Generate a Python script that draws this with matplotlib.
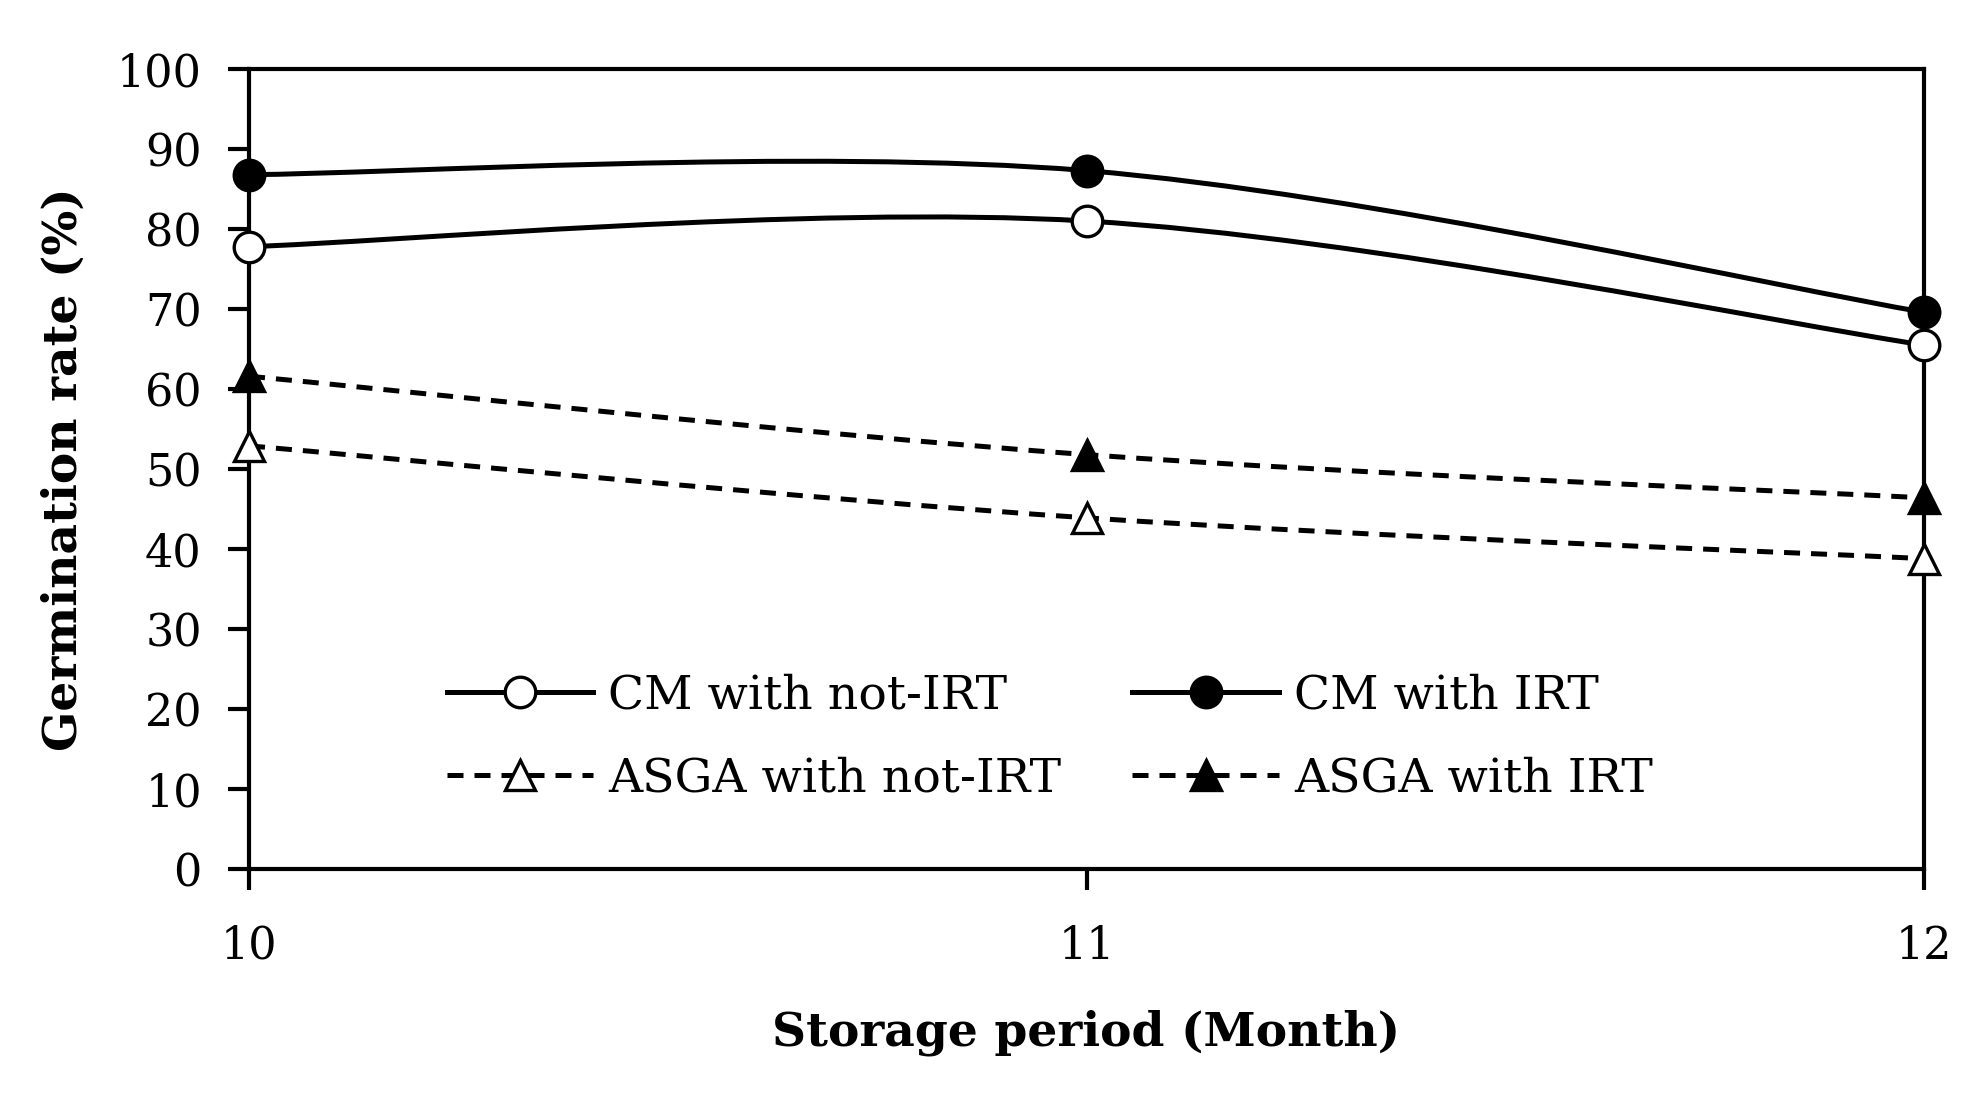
import numpy as np
import matplotlib
matplotlib.use('Agg')
import matplotlib.pyplot as plt
from matplotlib.path import Path
from matplotlib.patches import PathPatch
from matplotlib.lines import Line2D

# storage period (month) and germination rate (%) for each treatment
months = [10, 11, 12]
cm_not_irt = [77.8, 81.0, 65.5]
cm_irt = [86.8, 87.3, 69.6]
asga_not_irt = [52.9, 43.9, 38.8]
asga_irt = [61.6, 51.8, 46.4]

series_labels = ['CM with not-IRT', 'CM with IRT', 'ASGA with not-IRT', 'ASGA with IRT']
y_ticks = list(range(0, 101, 10))

plt.rcParams['font.family'] = ['DejaVu Serif']
plt.rcParams['font.size'] = 32


def smooth_path(x, y):
    # excel-like smoothed line through the points (cubic bezier segments)
    pts = np.column_stack([x, y]).astype(float)
    n = len(pts)
    verts = [pts[0]]
    codes = [Path.MOVETO]
    for i in range(n - 1):
        p_prev = pts[i - 1] if i > 0 else pts[i]
        p_next2 = pts[i + 2] if i + 2 < n else pts[i + 1]
        c1 = pts[i] + (pts[i + 1] - p_prev) / 6.0
        c2 = pts[i + 1] - (p_next2 - pts[i]) / 6.0
        verts += [c1, c2, pts[i + 1]]
        codes += [Path.CURVE4] * 3
    return Path(verts, codes)


fig = plt.figure(figsize=(19.86, 11.01), dpi=100)
ax = fig.add_axes([0.1254, 0.2107, 0.8434, 0.7266])

lw = 3.6
dash = (0, (3.2, 2.2))
styles = [
    (cm_not_irt, '-', 'o', 'white'),
    (cm_irt, '-', 'o', 'black'),
    (asga_not_irt, dash, '^', 'white'),
    (asga_irt, dash, '^', 'black'),
]

handles = []
for (vals, ls, mk, fc), lab in zip(styles, series_labels):
    ms = 22 if mk == 'o' else 21
    patch = PathPatch(smooth_path(months, vals), facecolor='none', edgecolor='black',
                      lw=lw, linestyle=ls, zorder=2)
    ax.add_patch(patch)
    ax.plot(months, vals, linestyle='none', marker=mk, markersize=ms,
            markerfacecolor=fc, markeredgecolor='black', markeredgewidth=2.4,
            clip_on=False, zorder=3)
    handles.append(Line2D([], [], color='black', lw=lw, linestyle=ls, marker=mk,
                          markersize=ms, markerfacecolor=fc,
                          markeredgecolor='black', markeredgewidth=2.4, label=lab))

ax.set_xlim(10, 12)
ax.set_ylim(0, 100)
ax.set_xticks(months)
ax.set_yticks(y_ticks)

for sp in ax.spines.values():
    sp.set_linewidth(3.0)

ax.tick_params(axis='both', direction='out', length=15, width=3.0)
ax.tick_params(axis='x', pad=25)
ax.tick_params(axis='y', pad=19)

ax.set_xlabel('Storage period (Month)', fontweight='bold', fontsize=34, labelpad=30)
ax.set_ylabel('Germination rate (%)', fontweight='bold', fontsize=34, labelpad=22)

order = [handles[0], handles[2], handles[1], handles[3]]
ax.legend(handles=order, ncol=2, loc='center left', bbox_to_anchor=(0.104, 0.165),
          frameon=False, borderpad=0, handlelength=3.1, handletextpad=0.32,
          columnspacing=1.5, labelspacing=0.8, fontsize=34)

fig.savefig('out.png', dpi=100)
